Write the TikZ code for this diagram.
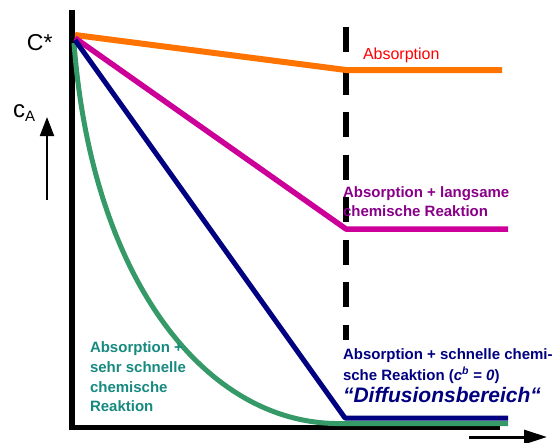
\documentclass[tikz,border=0pt]{standalone}
\usepackage{fontspec}
\setmainfont{Liberation Sans}
\usetikzlibrary{arrows.meta}
\definecolor{corange}{HTML}{FF7300}
\definecolor{cmagenta}{HTML}{CC0099}
\definecolor{cnavy}{HTML}{000080}
\definecolor{cgreen}{HTML}{359A68}
\definecolor{tred}{HTML}{FF0000}
\definecolor{tpurple}{HTML}{880088}
\definecolor{tteal}{HTML}{178A80}
\tikzset{
  lbl/.style={anchor=base west,inner sep=0pt,outer sep=0pt},
  fs/.style={font=\fontsize{#1}{#1}\selectfont},
  fsb/.style={font=\fontsize{#1}{#1}\selectfont\bfseries},
  fsbi/.style={font=\fontsize{#1}{#1}\selectfont\bfseries\itshape},
  curve/.style={line width=#1,line join=round},
}
\begin{document}
\begin{tikzpicture}[x=1pt,y=-1pt]
\useasboundingbox (0,0) rectangle (559,442);
% coordinates
\coordinate (ytop) at (72,10);
\coordinate (xend) at (500,427);
\coordinate (dtop) at (346,27);
\coordinate (dbot) at (346,340);
% axes
\draw[line width=6pt,line cap=butt] (ytop) -- (72,430);
\draw[line width=5pt] (69,427.5) -- (xend |- 0,427.5);
% dashed boundary
\draw[line width=6pt,dash pattern=on 25pt off 17.5pt] (dtop) -- (dbot);
% orange: absorption
\coordinate (or1) at (75,35);
\coordinate (or2) at (346,70);
\coordinate (or3) at (502,70);
\draw[curve=6pt,corange] (or1) -- (or2) -- (or3);
% magenta
\coordinate (mg1) at (75,38);
\coordinate (mg2) at (346,229);
\coordinate (mg3) at (508,229);
\draw[curve=5.5pt,cmagenta] (mg1) -- (mg2) -- (mg3);
% green: very fast reaction
\coordinate (gr1) at (74,43);
\coordinate (gr2) at (335,423.5);
\coordinate (gr3) at (508,423.5);
\draw[curve=5pt,cgreen] (gr1) .. controls (92,280) and (205,421) .. (gr2) -- (gr3);
% navy: fast reaction
\coordinate (nv1) at (75,40);
\coordinate (nv2) at (345,418);
\coordinate (nv3) at (508,418);
\draw[curve=5pt,cnavy] (nv1) -- (nv2) -- (nv3);
% axis labels
\node[lbl,fs=23] (cstar) at (27,50) {C*};
\node[lbl,fs=24] (ca) at (13,117) {c\raisebox{-4pt}{\fontsize{15}{15}\selectfont A}};
\coordinate (caA) at (47,200);
\coordinate (caB) at (47,117);
\draw[line width=2pt,-{Triangle[length=19pt,width=14pt]}] (caA) -- (caB);
\coordinate (xaA) at (469,437);
\coordinate (xaB) at (547,437);
\draw[line width=3pt,-{Triangle[length=23pt,width=14pt]}] (xaA) -- (xaB);
% texts
\node[lbl,fs=16,text=tred] (tabs) at (363,59) {Absorption};
\node[lbl,fsb=15,text=tpurple] (tl1) at (343,197) {Absorption + langsame};
\node[lbl,fsb=15,text=tpurple] (tl2) at (343,216) {chemische Reaktion};
\node[lbl,fsb=15,text=tteal] (ts1) at (90,352) {Absorption +};
\node[lbl,fsb=15,text=tteal] (ts2) at (90,372) {sehr schnelle};
\node[lbl,fsb=15,text=tteal] (ts3) at (90,392) {chemische};
\node[lbl,fsb=15,text=tteal] (ts4) at (90,411) {Reaktion};
\node[lbl,fsb=15,text=cnavy] (tn1) at (343,359) {Absorption + schnelle chemi-};
\node[lbl,fsb=15,text=cnavy] (tn2) at (343,380) {sche Reaktion (\textit{c}\textsuperscript{\textit{b}} = \textit{0})};
\node[lbl,fsbi=21,text=cnavy] (tn3) at (343,402) {“Diffusionsbereich“};
\end{tikzpicture}
\end{document}
